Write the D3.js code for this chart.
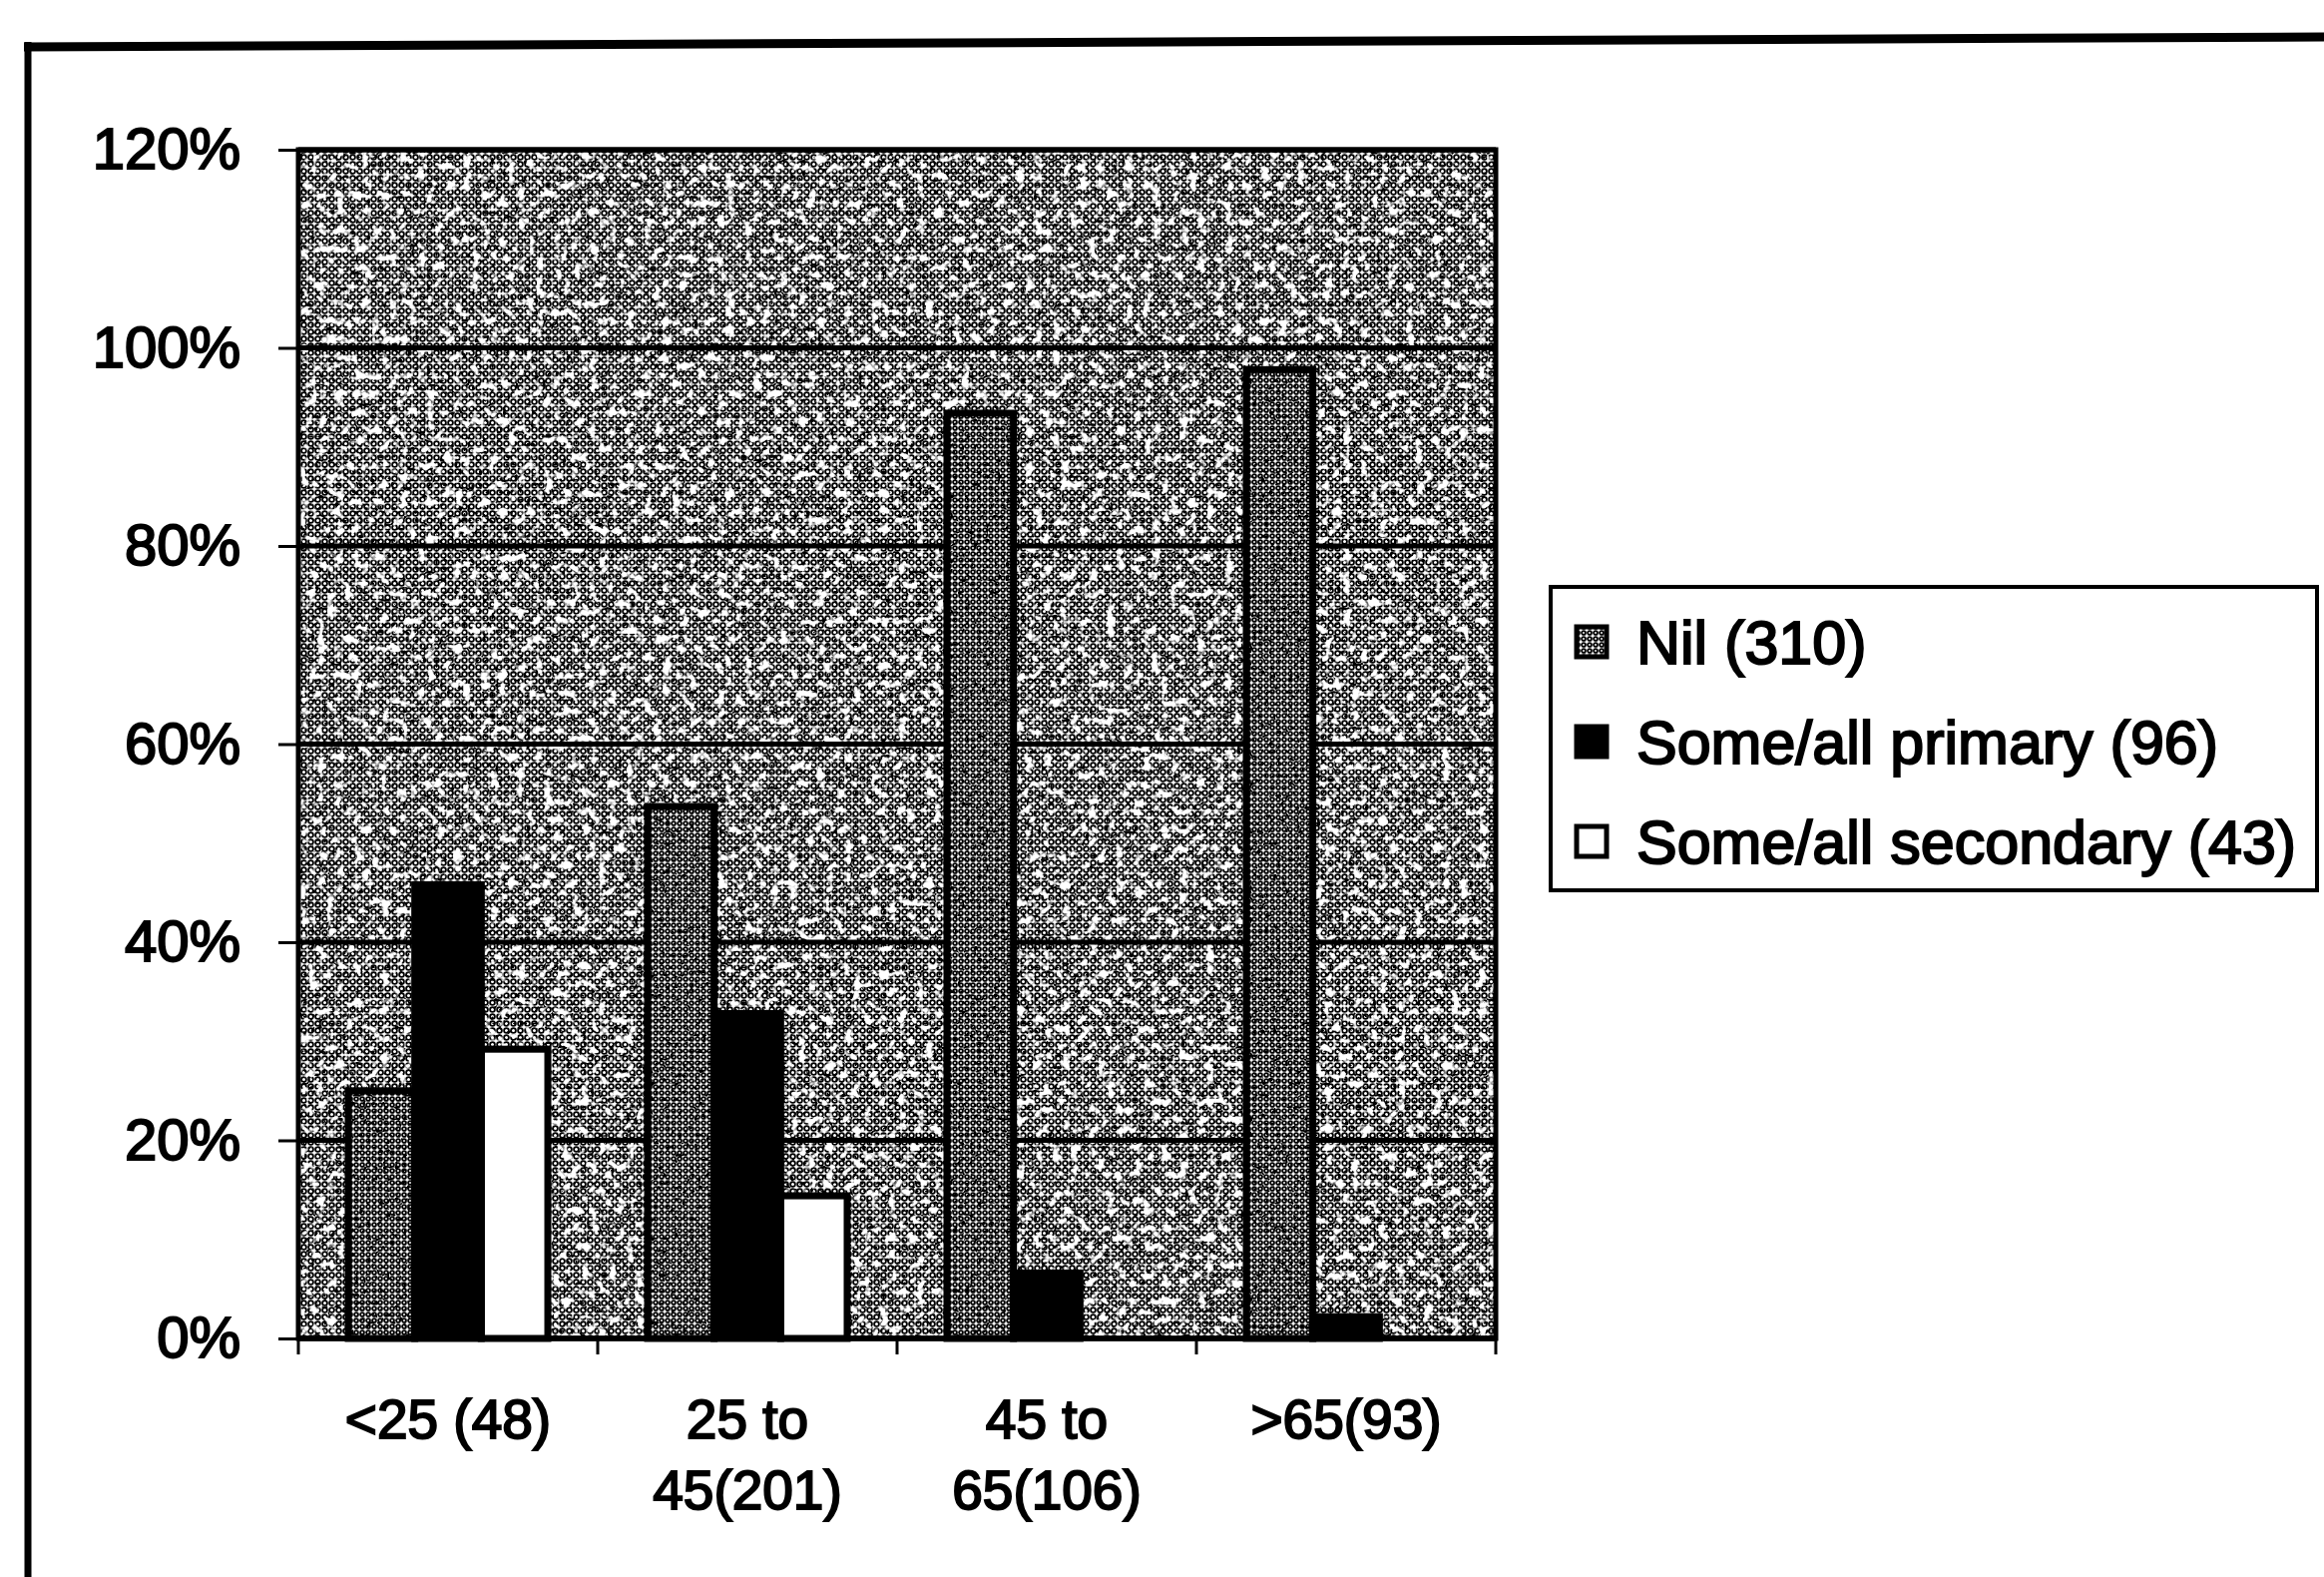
<!DOCTYPE html>
<html>
<head>
<meta charset="utf-8">
<script src="https://cdn.jsdelivr.net/npm/d3@7"></script>
<style>
  html, body { margin: 0; padding: 0; background: #fff; }
  svg { display: block; }
  text { font-family: "Liberation Sans", Arial, sans-serif; fill: #000; }
</style>
</head>
<body>
<script>
// Education level by age group (share of each age group)
const categories = ["<25 (48)", "25 to 45(201)", "45 to 65(106)", ">65(93)"];
const categoryLines = [["<25 (48)"], ["25 to", "45(201)"], ["45 to", "65(106)"], [">65(93)"]];
const seriesNames = ["Nil (310)", "Some/all primary (96)", "Some/all secondary (43)"];
const nilValues = [0.250, 0.537, 0.934, 0.978];
const primaryValues = [0.458, 0.328, 0.066, 0.022];
const secondaryValues = [0.292, 0.144, 0, 0];
const yTickValues = [0, 0.2, 0.4, 0.6, 0.8, 1.0, 1.2];

const W = 2329, H = 1580;
const plotLeft = 299, plotRight = 1499, plotTop = 150, plotBottom = 1341;

const svg = d3.select("body").append("svg").attr("width", W).attr("height", H);
const defs = svg.append("defs");

// ring dither used for the plot background
const rings = defs.append("pattern").attr("id", "rings")
  .attr("width", 7).attr("height", 7).attr("patternUnits", "userSpaceOnUse");
rings.append("rect").attr("width", 7).attr("height", 7).attr("fill", "#fff");
rings.append("circle").attr("cx", 3.5).attr("cy", 3.5).attr("r", 2.4)
  .attr("fill", "none").attr("stroke", "#000").attr("stroke-width", 1.8);

// denser dither for the "Nil" series
const ringsDense = defs.append("pattern").attr("id", "ringsDense")
  .attr("width", 6).attr("height", 6).attr("patternUnits", "userSpaceOnUse");
ringsDense.append("rect").attr("width", 6).attr("height", 6).attr("fill", "#fff");
ringsDense.append("circle").attr("cx", 3).attr("cy", 3).attr("r", 1.9)
  .attr("fill", "none").attr("stroke", "#000").attr("stroke-width", 1.9);

// white blotches (grain of the printed screen)
const blotch = defs.append("filter").attr("id", "blotch")
  .attr("x", 0).attr("y", 0).attr("width", 1).attr("height", 1)
  .attr("color-interpolation-filters", "sRGB");
blotch.append("feTurbulence").attr("type", "fractalNoise")
  .attr("baseFrequency", 0.11).attr("numOctaves", 2).attr("seed", 11);
blotch.append("feColorMatrix").attr("type", "matrix")
  .attr("values", "0 0 0 0 1  0 0 0 0 1  0 0 0 0 1  8 0 0 0 -4.45");

// black specks
const specks = defs.append("filter").attr("id", "specks")
  .attr("x", 0).attr("y", 0).attr("width", 1).attr("height", 1)
  .attr("color-interpolation-filters", "sRGB");
specks.append("feTurbulence").attr("type", "fractalNoise")
  .attr("baseFrequency", 0.25).attr("numOctaves", 1).attr("seed", 5);
specks.append("feColorMatrix").attr("type", "matrix")
  .attr("values", "0 0 0 0 0  0 0 0 0 0  0 0 0 0 0  12 0 0 0 -7.2");

// outer frame of the chart
svg.append("path").attr("d", `M24,47 L${W},37`)
  .attr("stroke", "#000").attr("stroke-width", 9).attr("fill", "none");
svg.append("line").attr("x1", 28).attr("x2", 28).attr("y1", 42).attr("y2", H)
  .attr("stroke", "#000").attr("stroke-width", 7);

// scales
const x = d3.scaleBand().domain(categories).range([plotLeft, plotRight]).paddingInner(0).paddingOuter(0);
const xs = d3.scaleBand().domain(seriesNames).range([0, x.bandwidth()]).paddingInner(0).paddingOuter(0.75);
const y = d3.scaleLinear().domain([0, 1.2]).range([plotBottom, plotTop]);

// plot background
const bgW = plotRight - plotLeft, bgH = plotBottom - plotTop;
svg.append("rect").attr("x", plotLeft).attr("y", plotTop).attr("width", bgW).attr("height", bgH)
  .attr("fill", "url(#rings)");
svg.append("rect").attr("x", plotLeft).attr("y", plotTop).attr("width", bgW).attr("height", bgH)
  .attr("fill", "#000").attr("filter", "url(#specks)");
svg.append("rect").attr("x", plotLeft).attr("y", plotTop).attr("width", bgW).attr("height", bgH)
  .attr("fill", "#fff").attr("filter", "url(#blotch)");

// gridlines
svg.append("g").selectAll("line").data(yTickValues).join("line")
  .attr("x1", plotLeft).attr("x2", plotRight)
  .attr("y1", d => y(d)).attr("y2", d => y(d))
  .attr("stroke", "#000").attr("stroke-width", 5);

// plot border
svg.append("rect").attr("x", plotLeft).attr("y", plotTop).attr("width", bgW).attr("height", bgH)
  .attr("fill", "none").attr("stroke", "#000").attr("stroke-width", 5);

// bars
const rows = categories.map((c, i) => ({ cat: c, values: [nilValues[i], primaryValues[i], secondaryValues[i]] }));
const barData = rows.flatMap(r => r.values.map((v, j) => ({ cat: r.cat, series: seriesNames[j], idx: j, v })))
  .filter(d => d.v > 0);

const bars = svg.append("g");
bars.selectAll("rect.fill").data(barData).join("rect").attr("class", "fill")
  .attr("x", d => x(d.cat) + xs(d.series)).attr("width", xs.bandwidth())
  .attr("y", d => y(d.v)).attr("height", d => y(0) - y(d.v))
  .attr("fill", d => d.idx === 0 ? "url(#ringsDense)" : (d.idx === 1 ? "#000" : "#fff"));
bars.selectAll("rect.grain").data(barData.filter(d => d.idx === 0)).join("rect").attr("class", "grain")
  .attr("x", d => x(d.cat) + xs(d.series)).attr("width", xs.bandwidth())
  .attr("y", d => y(d.v)).attr("height", d => y(0) - y(d.v))
  .attr("fill", "#000").attr("filter", "url(#specks)");
bars.selectAll("rect.edge").data(barData).join("rect").attr("class", "edge")
  .attr("x", d => x(d.cat) + xs(d.series)).attr("width", xs.bandwidth())
  .attr("y", d => y(d.v)).attr("height", d => y(0) - y(d.v))
  .attr("fill", "none").attr("stroke", "#000").attr("stroke-width", 7);

// y axis
const yAxis = svg.append("g").attr("transform", `translate(${plotLeft},0)`)
  .call(d3.axisLeft(y).tickValues(yTickValues).tickFormat(d3.format(".0%")).tickSize(20).tickPadding(38));
yAxis.select(".domain").remove();
yAxis.selectAll(".tick line").attr("stroke", "#000").attr("stroke-width", 3);
yAxis.selectAll(".tick text").attr("font-size", 58).attr("font-family", "Liberation Sans, Arial, sans-serif")
  .attr("stroke", "#000").attr("stroke-width", 2);

// x axis: line, boundary ticks, labels
svg.append("line").attr("x1", plotLeft).attr("x2", plotRight).attr("y1", y(0)).attr("y2", y(0))
  .attr("stroke", "#000").attr("stroke-width", 5);
const bounds = categories.map(c => x(c)).concat([x(categories[categories.length - 1]) + x.bandwidth()]);
svg.append("g").selectAll("line").data(bounds).join("line")
  .attr("x1", d => d).attr("x2", d => d).attr("y1", y(0)).attr("y2", y(0) + 16)
  .attr("stroke", "#000").attr("stroke-width", 3);

const xLab = svg.append("g").selectAll("text").data(categories).join("text")
  .attr("x", d => x(d) + x.bandwidth() / 2).attr("y", 1441)
  .attr("text-anchor", "middle").attr("font-size", 55)
  .attr("stroke", "#000").attr("stroke-width", 2);
xLab.each(function (d, i) {
  d3.select(this).selectAll("tspan").data(categoryLines[i]).join("tspan")
    .attr("x", x(d) + x.bandwidth() / 2).attr("dy", (t, k) => k === 0 ? 0 : 71).text(t => t);
});

// legend
const legend = svg.append("g");
legend.append("rect").attr("x", 1554).attr("y", 588).attr("width", 768).attr("height", 304)
  .attr("fill", "#fff").attr("stroke", "#000").attr("stroke-width", 4);
const legendRow = d3.scaleBand().domain(seriesNames).range([593, 893]);
const item = legend.selectAll("g.item").data(seriesNames).join("g").attr("class", "item")
  .attr("transform", d => `translate(0,${legendRow(d) + legendRow.bandwidth() / 2})`);
item.append("rect").attr("x", 1580).attr("y", -15).attr("width", 30).attr("height", 30)
  .attr("fill", (d, i) => i === 0 ? "url(#ringsDense)" : (i === 1 ? "#000" : "#fff"))
  .attr("stroke", "#000").attr("stroke-width", 5);
item.append("text").attr("x", 1640).attr("dy", "0.36em").attr("font-size", 61)
  .attr("stroke", "#000").attr("stroke-width", 2).text(d => d);
</script>
</body>
</html>
